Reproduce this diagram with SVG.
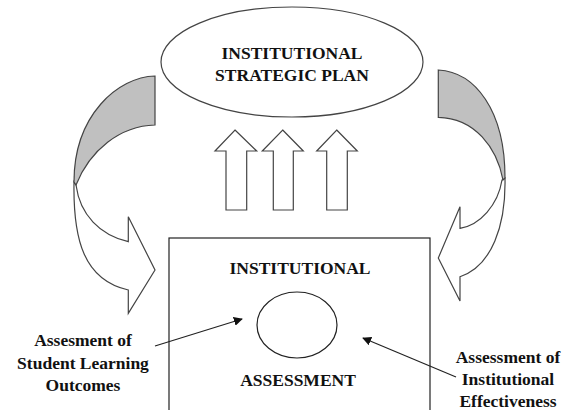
<svg xmlns="http://www.w3.org/2000/svg" width="568" height="410" viewBox="0 0 568 410">
<defs>
<style>
.t{font-family:"Liberation Serif","Times New Roman",serif;font-weight:bold;font-size:17.5px;fill:#111;text-anchor:middle}
.o{fill:#fff;stroke:#444;stroke-width:1.2}
.g{fill:#c0c0c0;stroke:#444;stroke-width:1.2}
.ln{stroke:#222;stroke-width:1.2;fill:none}
</style>
<marker id="ah" viewBox="0 0 10 10" refX="9" refY="5" markerWidth="9" markerHeight="9" markerUnits="userSpaceOnUse" orient="auto">
<path d="M0,0 L10,5 L0,10 Z" fill="#111"/>
</marker>
</defs>
<rect width="568" height="410" fill="#fff"/>

<g id="plan">
<ellipse cx="292" cy="62" rx="131" ry="55" class="o"/>
<text class="t" x="292" y="59">INSTITUTIONAL</text>
<text class="t" x="292" y="81">STRATEGIC PLAN</text>
</g>

<g id="up-arrows">
<path class="o" d="M235,130 L256.7,151 L246.7,151 L246.7,210 L226,210 L226,151 L215,151 Z"/>
<path class="o" d="M282.7,130 L303.3,151 L293.3,151 L293.3,210 L273.3,210 L273.3,151 L262.3,151 Z"/>
<path class="o" d="M336.7,130 L357.3,151 L347.3,151 L347.3,210 L326.7,210 L326.7,151 L316.7,151 Z"/>
</g>

<g id="left-curved-arrow">
<path class="o" d="M74,182 C73,240 84,280 128.3,290 L128.3,313.3 L155,270 L128.3,216.7 L128.3,241.7 C100,235 80,215 76,185 Z"/>
<path class="g" d="M155,76 C118,77 74,115 74,182 L76,185 C90,150 120,126 155,125 Z"/>
</g>

<g id="right-curved-arrow">
<path class="o" d="M505,178 C506,225 492,266 460,276.7 L460,301 L438.3,258 L460,206.7 L460,228.3 C480,225 498,205 502,180 Z"/>
<path class="g" d="M438.3,70 C475,72 505,110 505,178 L503,180 C497,148 475,118 438.3,117.3 Z"/>
</g>

<g id="assessment">
<rect x="169" y="238" width="261" height="190" fill="#fff" stroke="#222" stroke-width="1.2"/>
<text class="t" x="300" y="274">INSTITUTIONAL</text>
<ellipse cx="297" cy="325" rx="40" ry="33" fill="#fff" stroke="#222" stroke-width="1.2"/>
<text class="t" x="298" y="386">ASSESSMENT</text>
</g>

<g id="connectors">
<line class="ln" x1="155" y1="346" x2="242" y2="319" marker-end="url(#ah)"/>
<line class="ln" x1="456" y1="377" x2="363" y2="338" marker-end="url(#ah)"/>
</g>

<g id="label-slo">
<text class="t" x="83" y="346">Assesment of</text>
<text class="t" x="83" y="369">Student Learning</text>
<text class="t" x="83" y="391">Outcomes</text>
</g>

<g id="label-ie">
<text class="t" x="508" y="363">Assessment of</text>
<text class="t" x="508" y="385">Institutional</text>
<text class="t" x="508" y="407">Effectiveness</text>
</g>
</svg>
